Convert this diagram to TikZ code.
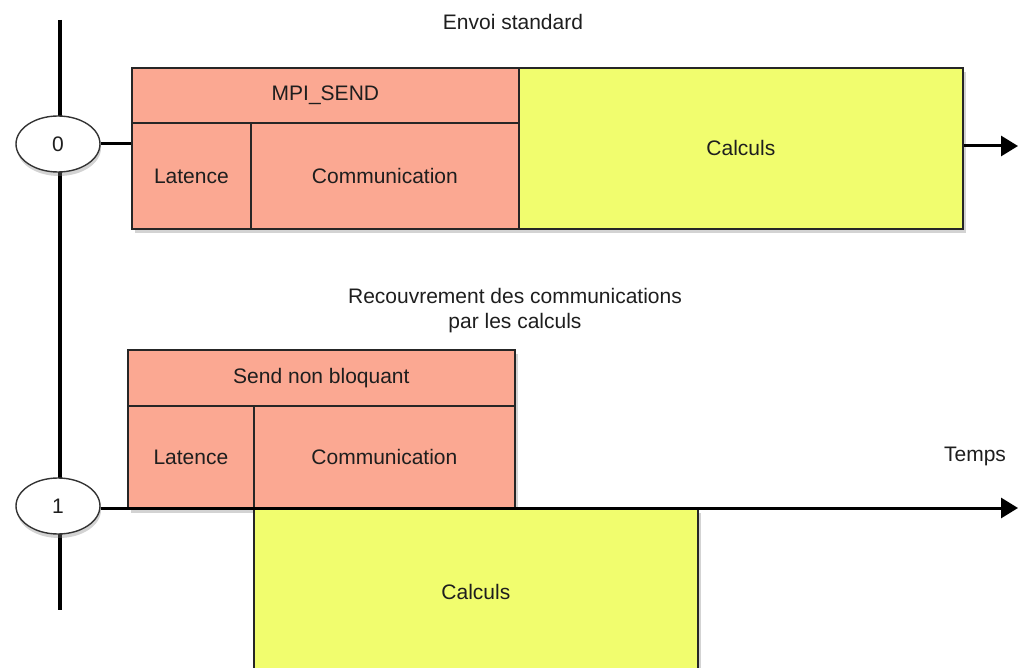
\documentclass[tikz,border=0pt]{standalone}
\usepackage{fontspec}
\setmainfont{Liberation Sans}
\usetikzlibrary{shapes.geometric,shadows,arrows.meta}
\definecolor{commpink}{RGB}{251,168,146}
\definecolor{calcyellow}{RGB}{241,253,110}
\definecolor{inkgray}{RGB}{30,30,30}
\begin{document}
\begin{tikzpicture}[x=1pt,y=-1pt,
  txt/.style={text=inkgray, font=\fontsize{21}{25}\selectfont},
  cell/.style={txt, draw=black!85, line width=1.8pt, inner sep=0pt,
    anchor=north west,
    drop shadow={opacity=0.35, shadow xshift=3pt, shadow yshift=-4pt}},
  comm/.style={cell, fill=commpink},
  calc/.style={cell, fill=calcyellow},
  proc/.style={ellipse, draw=black!80, fill=white, line width=1.4pt,
    minimum width=84pt, minimum height=56pt, txt,
    drop shadow={opacity=0.35, shadow xshift=1pt, shadow yshift=-4pt}},
  axis/.style={line width=4.5pt, black},
  tline/.style={line width=3pt, black},
  tarrow/.style={tline, -{Triangle[length=17pt,width=20pt]}}]

\path[use as bounding box] (0,0) rectangle (1018,668);

% process axis
\coordinate (axtop) at (60,20);
\coordinate (axbot) at (60,610);
\draw[axis] (axtop) -- (axbot);

% --- standard send ---
\node[txt] (title0) at (513,22) {Envoi standard};
\node[comm, minimum width=387pt, minimum height=55pt] (mpi) at (131,67) {MPI\_SEND};
\node[comm, minimum width=119pt, minimum height=106pt] (lat0) at (131,122) {Latence};
\node[comm, minimum width=268pt, minimum height=106pt] (com0) at (250,122) {Communication};
\node[calc, minimum width=444pt, minimum height=161pt] (calc0) at (518,67) {Calculs};

\node[proc] (p0) at (58,144) {0};
\coordinate (end0) at (1018,146);
\draw[tline] (p0.east) -- (p0.east -| mpi.west);
\draw[tarrow] (calc0.east |- end0) -- (end0);

% --- non-blocking send ---
\node[txt, align=center] (title1) at (515,311) {Recouvrement des communications\\par les calculs};
\node[comm, minimum width=387pt, minimum height=56pt] (snb) at (127,349) {Send non bloquant};
\node[comm, minimum width=126pt, minimum height=103pt] (lat1) at (127,405) {Latence};
\node[comm, minimum width=261pt, minimum height=103pt] (com1) at (253,405) {Communication};
\node[calc, minimum width=444pt, minimum height=166pt] (calc1) at (253,508) {Calculs};

\node[proc] (p1) at (58,506) {1};
\coordinate (end1) at (1018,508);
\draw[tarrow] (p1.east |- end1) -- (end1);
\node[txt] (temps) at (975,456) {Temps};

\end{tikzpicture}
\end{document}
